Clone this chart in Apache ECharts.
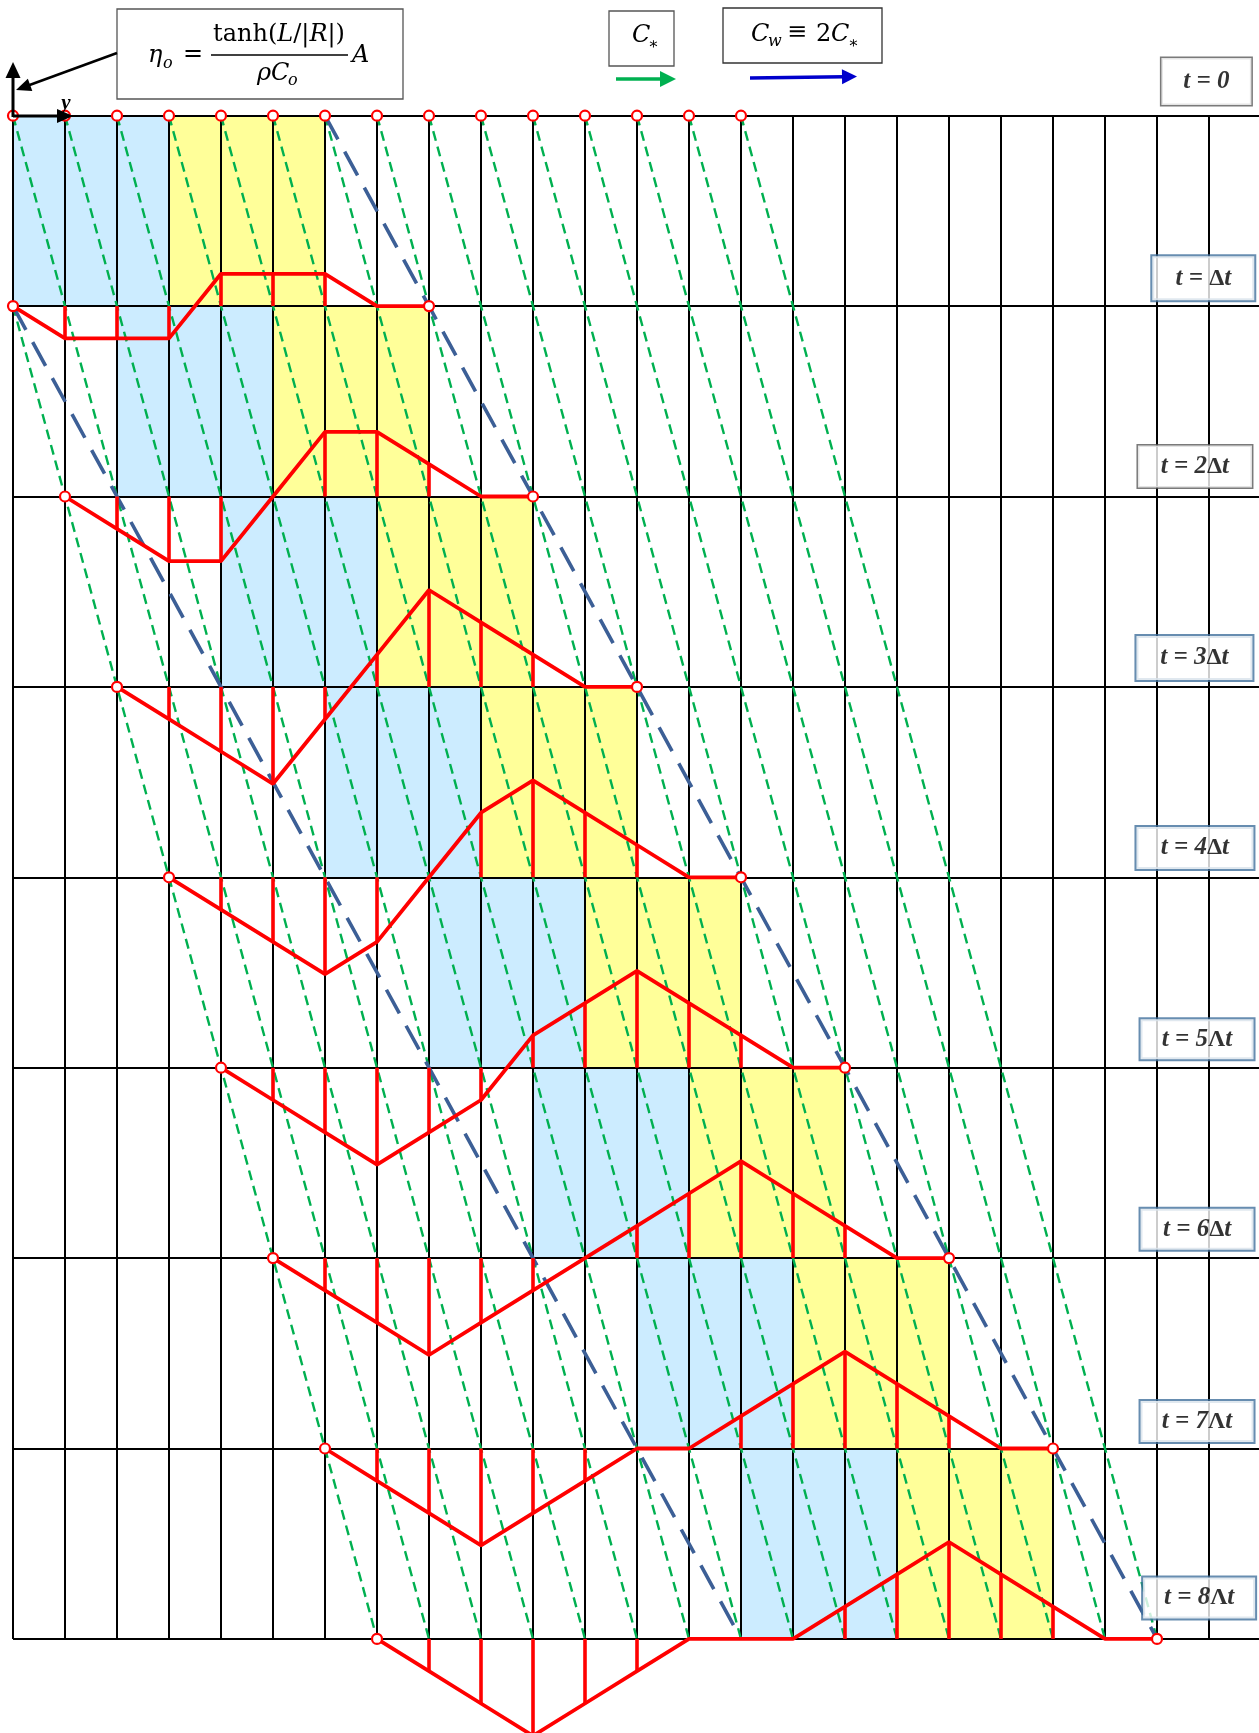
<!DOCTYPE html>
<html>
<head>
<meta charset="utf-8">
<title>Wave propagation diagram</title>
<script src="https://cdn.jsdelivr.net/npm/echarts@6/dist/echarts.min.js"></script>
<style>
html,body{margin:0;padding:0;background:#ffffff;}
#chart{width:1259px;height:1733px;}
</style>
</head>
<body>
<div id="chart"></div>
<script>
// ================= DATA =================
const timeLevels = [0, 1, 2, 3, 4, 5, 6, 7, 8];
const timeLabels = ['t = 0', 't = Δt', 't = 2Δt', 't = 3Δt', 't = 4Δt', 't = 5Λt', 't = 6Δt', 't = 7Λt', 't = 8Λt'];

// red profiles (value at each grid node), one array per time level 1..8
const profileStartNode = [0, 1, 2, 3, 4, 5, 6, 7];
const eta1 = [0, -1, -1, -1, 1, 1, 1, 0, 0];
const eta2 = [0, -1, -2, -2, 0, 2, 2, 1, 0, 0];
const eta3 = [0, -1, -2, -3, -1, 1, 3, 2, 1, 0, 0];
const eta4 = [0, -1, -2, -3, -2, 0, 2, 3, 2, 1, 0, 0];
const eta5 = [0, -1, -2, -3, -2, -1, 1, 2, 3, 2, 1, 0, 0];
const eta6 = [0, -1, -2, -3, -2, -1, 0, 1, 2, 3, 2, 1, 0, 0];
const eta7 = [0, -1, -2, -3, -2, -1, 0, 0, 1, 2, 3, 2, 1, 0, 0];
const eta8 = [0, -1, -2, -3, -2, -1, 0, 0, 0, 1, 2, 3, 2, 1, 0, 0];

// shaded cells per row band (row j between t=j and t=j+1)
const shadeRows = [0, 1, 2, 3, 4, 5, 6, 7];
const blueFrom = [0, 2, 4, 6, 8, 10, 12, 14];
const blueTo = [3, 5, 7, 9, 11, 13, 15, 17];
const yellowFrom = [3, 5, 7, 9, 11, 13, 15, 17];
const yellowTo = [6, 8, 10, 12, 14, 16, 18, 20];

// characteristic lines [y0, t0, y1, t1]
const greenLines = [
  [0, 0, 8, 8], [1, 0, 9, 8], [2, 0, 10, 8], [3, 0, 11, 8], [4, 0, 12, 8],
  [5, 0, 13, 8], [6, 0, 14, 8], [7, 0, 15, 8], [8, 0, 16, 8], [9, 0, 17, 8],
  [10, 0, 18, 8], [11, 0, 19, 8], [12, 0, 20, 8], [13, 0, 21, 8], [14, 0, 22, 8],
  [0, 1, 7, 8]
];
const blueDashLines = [[6, 0, 22, 8], [0, 1, 14, 8]];

// red circles
const topCircleNodes = [0, 1, 2, 3, 4, 5, 6, 7, 8, 9, 10, 11, 12, 13, 14];
const leftCircleNodes = [0, 1, 2, 3, 4, 5, 6, 7];
const rightCircleNodes = [8, 10, 12, 14, 16, 18, 20, 22];

// ================= LAYOUT / STYLE =================
const GX = 13, CELL = 52, GY = 115.7, ROW = 190.4;
const XMAX = (1259 - GX) / CELL;
const ETA_SCALE = 32.3 / ROW;     // one profile unit, in rows
const RED = '#FF0000', GREEN = '#00B050', DASHBLUE = '#3C5F96';
const LIGHTBLUE = '#CCECFF', YELLOW = '#FFFF99';

const labelX = [22.95, 22.89, 22.73, 22.72, 22.73, 22.77, 22.77, 22.77, 22.81];
const labelDY = [-0.179, -0.146, -0.157, -0.152, -0.154, -0.149, -0.151, -0.142, -0.215];
const labelW = [93, 105, 117, 119, 120, 116, 116, 116, 115];
const labelH = [50, 47, 45, 47, 45, 43, 44, 44, 44];
const labelBorder = ['#595959', '#41719C', '#595959', '#41719C', '#41719C', '#41719C', '#41719C', '#41719C', '#41719C'];

const profiles = [eta1, eta2, eta3, eta4, eta5, eta6, eta7, eta8];

// ================= BUILD =================
const chart = echarts.init(document.getElementById('chart'), null, {renderer: 'canvas', width: 1259, height: 1733});

const shadeData = [];
shadeRows.forEach((r, i) => {
  shadeData.push([blueFrom[i], blueTo[i], r, 0]);
  shadeData.push([yellowFrom[i], yellowTo[i], r, 1]);
});

const stemData = [];
profiles.forEach((vals, i) => {
  const j = i + 1, s = profileStartNode[i];
  vals.forEach((v, n) => {
    if (v !== 0) stemData.push([s + n, j, s + n, j - v * ETA_SCALE]);
  });
});

const circleData = [];
topCircleNodes.forEach(k => circleData.push([k, 0]));
leftCircleNodes.forEach((k, i) => circleData.push([k, i + 1]));
rightCircleNodes.forEach((k, i) => circleData.push([k, i + 1]));

function segRenderer(stroke, lw, dash) {
  return function (params, api) {
    const a = api.coord([api.value(0), api.value(1)]);
    const b = api.coord([api.value(2), api.value(3)]);
    return {
      type: 'line',
      shape: {x1: a[0], y1: a[1], x2: b[0], y2: b[1]},
      style: {stroke: stroke, lineWidth: lw, lineDash: dash, fill: null}
    };
  };
}

const series = [];

series.push({
  type: 'custom', name: 'shade', z: 1, clip: false, silent: true,
  data: shadeData,
  encode: {x: [0, 1], y: [2]},
  renderItem: function (params, api) {
    const p0 = api.coord([api.value(0), api.value(2)]);
    const p1 = api.coord([api.value(1), api.value(2) + 1]);
    return {
      type: 'rect',
      shape: {x: p0[0], y: p0[1], width: p1[0] - p0[0], height: p1[1] - p0[1]},
      style: {fill: api.value(3) === 0 ? LIGHTBLUE : YELLOW, stroke: null}
    };
  }
});

series.push({
  type: 'custom', name: 'green', z: 5, clip: false, silent: true,
  data: greenLines, encode: {x: [0, 2], y: [1, 3]},
  renderItem: segRenderer(GREEN, 2.4, [10, 6])
});

series.push({
  type: 'custom', name: 'bluedash', z: 6, clip: false, silent: true,
  data: blueDashLines, encode: {x: [0, 2], y: [1, 3]},
  renderItem: segRenderer(DASHBLUE, 3.6, [27, 14])
});

profiles.forEach((vals, i) => {
  const j = i + 1, s = profileStartNode[i];
  series.push({
    type: 'line', name: 'profile' + j, z: 8, clip: false, silent: true,
    showSymbol: false, symbol: 'none',
    lineStyle: {color: RED, width: 3.8},
    data: vals.map((v, n) => [s + n, j - v * ETA_SCALE])
  });
});

series.push({
  type: 'custom', name: 'stems', z: 8, clip: false, silent: true,
  data: stemData, encode: {x: [0, 2], y: [1, 3]},
  renderItem: segRenderer(RED, 3.6, null)
});

series.push({
  type: 'scatter', name: 'circles', z: 10, clip: false, silent: true,
  symbol: 'circle', symbolSize: 10,
  itemStyle: {color: '#ffffff', borderColor: RED, borderWidth: 2.2, opacity: 1},
  data: circleData
});

const LBLFONT = '"Liberation Serif", "Times New Roman", serif';
function richLabel(s) {
  // Greek step symbol upright, the rest bold italic
  return s.split(/([ΔΛ])/).filter(x => x.length).map(x => (x === 'Δ' || x === 'Λ') ? '{u|' + x + '}' : '{i|' + x + '}').join('');
}

series.push({
  type: 'scatter', name: 'timeLabels', z: 20, clip: false, silent: true,
  symbolSize: 0.01,
  itemStyle: {color: 'rgba(0,0,0,0)'},
  data: timeLevels.map((j, i) => ({
    value: [labelX[i], j + labelDY[i]],
    label: {
      width: labelW[i] - 3, height: labelH[i] - 3, lineHeight: labelH[i] - 3,
      borderColor: labelBorder[i], borderWidth: labelBorder[i] === '#595959' ? 1.5 : 2
    }
  })),
  label: {
    show: true, position: 'inside',
    formatter: p => richLabel(timeLabels[p.dataIndex]),
    fontFamily: LBLFONT, fontStyle: 'italic', fontWeight: 'bold', fontSize: 25, color: '#000',
    backgroundColor: '#ffffff', padding: 0, align: 'center', verticalAlign: 'middle',
    rich: {
      i: {fontFamily: LBLFONT, fontStyle: 'italic', fontWeight: 'bold', fontSize: 25, color: '#000'},
      u: {fontFamily: LBLFONT, fontStyle: 'normal', fontWeight: 'bold', fontSize: 24, color: '#000'}
    }
  }
});

// ---------- annotations (graphic) ----------
const G = [];
function gRect(x, y, w, h, stroke, lw) {
  G.push({type: 'rect', shape: {x: x, y: y, width: w, height: h}, style: {fill: '#ffffff', stroke: stroke, lineWidth: lw}, z: 100});
}
function gText(x, y, str, font, align) {
  G.push({type: 'text', x: x, y: y, z: 101,
    style: {text: str, font: font, fill: '#000', align: align || 'left', verticalAlign: 'middle',
            textAlign: align || 'left', textVerticalAlign: 'middle'}});
}
function gLine(x1, y1, x2, y2, stroke, lw) {
  G.push({type: 'line', shape: {x1: x1, y1: y1, x2: x2, y2: y2}, style: {stroke: stroke, lineWidth: lw}, z: 101});
}
function gArrow(x1, y1, x2, y2, color, lw, headLen, headHalf) {
  const dx = x2 - x1, dy = y2 - y1, L = Math.sqrt(dx * dx + dy * dy);
  const ux = dx / L, uy = dy / L, px = -uy, py = ux;
  const bx = x2 - ux * headLen, by = y2 - uy * headLen;
  gLine(x1, y1, bx + ux * 2, by + uy * 2, color, lw);
  G.push({type: 'polygon', z: 102,
    shape: {points: [[x2, y2], [bx + px * headHalf, by + py * headHalf], [bx - px * headHalf, by - py * headHalf]]},
    style: {fill: color}});
}

const MATH = '"DejaVu Serif", "Liberation Serif", serif';
const MI = 'italic 24px ' + MATH, MR = '24px ' + MATH, MS = 'italic 16px ' + MATH;

// formula box
gRect(117, 9, 286, 90, '#555555', 1.3);
gText(148, 56, 'η', MI);
gText(163, 64, 'o', MS);
gText(193, 55, '=', MR, 'center');
G.push({type: 'text', x: 279, y: 35, z: 101, style: {
  text: '{r|tanh(}{i|L}{r|/|}{i|R}{r||)}', fill: '#000', align: 'center', verticalAlign: 'middle',
  textAlign: 'center', textVerticalAlign: 'middle',
  rich: {r: {font: MR, fill: '#000'}, i: {font: MI, fill: '#000'}}}});
gLine(211, 55, 348, 55, '#000', 1.5);
gText(257, 74, 'ρC', MI);
gText(288, 81, 'o', MS);
gText(352, 56, 'A', MI);
gArrow(117, 53, 16, 90, '#000', 2.5, 15, 6.5);

// C* box
gRect(609, 11, 65, 55, '#555555', 1.3);
gText(632, 36, 'C', MI);
gText(648, 45, '∗', '16px ' + MATH);
gArrow(616, 79, 676, 79, GREEN, 3.5, 16, 8);

// Cw box
gRect(723, 8, 159, 55, '#333333', 1.3);
gText(751, 35, 'C', MI);
gText(768, 42, 'w', MS);
gText(797, 33, '≡', MR, 'center');
gText(816, 35, '2', MR);
gText(831, 35, 'C', MI);
gText(848, 44, '∗', '16px ' + MATH);
gArrow(750, 78, 857, 76.5, '#0000CC', 3.5, 15, 7.5);

// coordinate arrows at origin
gArrow(13, 117, 13, 62, '#000', 3, 16, 7.5);
gArrow(13, 116, 73, 116, '#000', 3, 16, 7);
gText(66, 104, 'y', 'italic bold 21px "Liberation Serif", serif', 'center');

chart.setOption({
  animation: false,
  backgroundColor: '#ffffff',
  grid: {left: GX, top: GY, width: XMAX * CELL, height: 8 * ROW, containLabel: false, outerBoundsMode: 'none'},
  xAxis: {
    type: 'value', min: 0, max: XMAX, interval: 1, z: 3,
    axisLine: {show: false}, axisTick: {show: false}, axisLabel: {show: false},
    splitLine: {show: true, showMaxLine: false, lineStyle: {color: '#000', width: 2}}
  },
  yAxis: {
    type: 'value', inverse: true, min: 0, max: 8, interval: 1, z: 3,
    axisLine: {show: false}, axisTick: {show: false}, axisLabel: {show: false},
    splitLine: {show: true, lineStyle: {color: '#000', width: 2}}
  },
  series: series,
  graphic: {elements: G}
});
</script>
</body>
</html>
